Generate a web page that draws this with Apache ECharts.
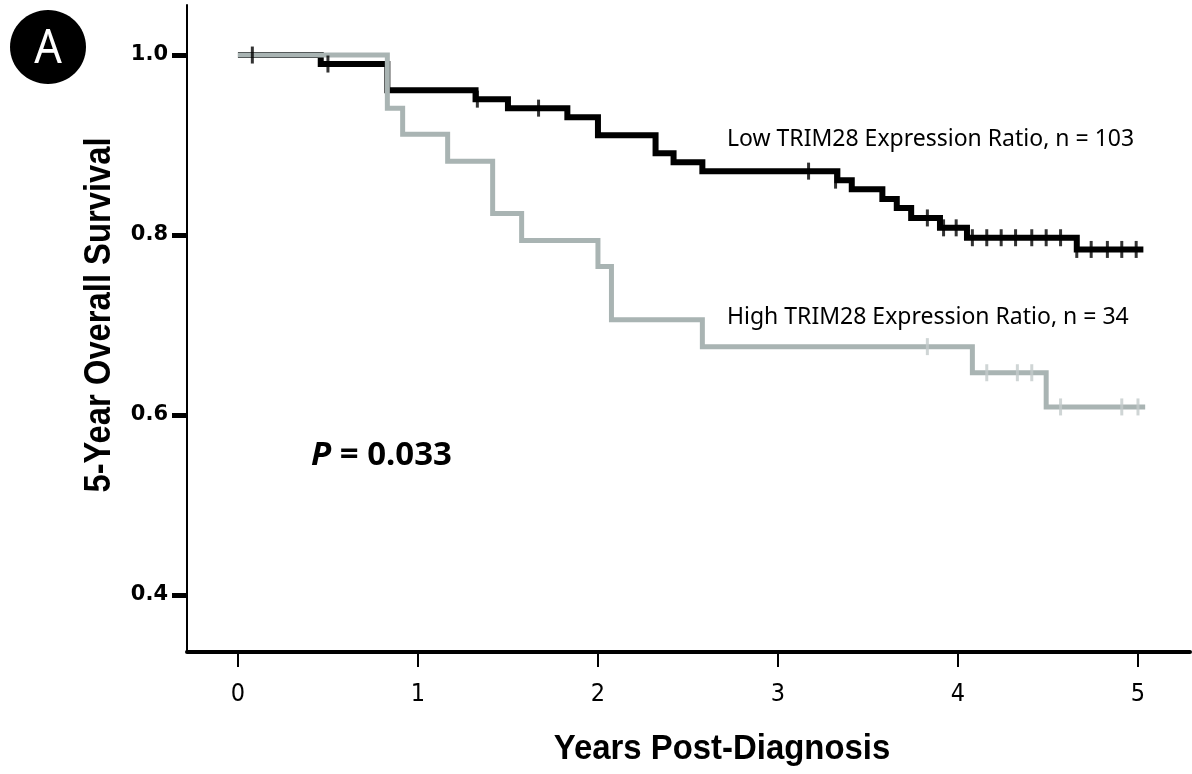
<!DOCTYPE html>
<html>
<head>
<meta charset="utf-8">
<script src="https://cdn.jsdelivr.net/npm/echarts@6/dist/echarts.min.js"></script>
<style>
html,body{margin:0;padding:0;background:#fff;}
#chart{width:1192px;height:774px;}
</style>
</head>
<body>
<div id="chart"></div>
<script>
// ---- Data ----
var xTicks = [0, 1, 2, 3, 4, 5];
var yTicks = [0.4, 0.6, 0.8, 1.0];

// Low TRIM28 expression ratio (n = 103): event times and survival after each step
var lowTimes = [0, 0.46, 0.83, 1.32, 1.50, 1.83, 2.00, 2.32, 2.42, 2.58, 3.33, 3.41, 3.58, 3.66, 3.74, 3.90, 4.05, 4.66, 5.03];
var lowSurv  = [1.0, 0.990, 0.961, 0.951, 0.941, 0.931, 0.911, 0.891, 0.881, 0.871, 0.861, 0.851, 0.840, 0.830, 0.819, 0.808, 0.797, 0.784, 0.784];
// censored observations (time, survival level)
var lowCensorTimes = [0.08, 0.50, 1.33, 1.67, 3.17, 3.32, 3.83, 3.92, 3.99, 4.08, 4.16, 4.24, 4.32, 4.41, 4.49, 4.57, 4.66, 4.74, 4.83, 4.91, 4.99];
var lowCensorSurv  = [1.0, 0.990, 0.951, 0.941, 0.871, 0.861, 0.819, 0.808, 0.808, 0.797, 0.797, 0.797, 0.797, 0.797, 0.797, 0.797, 0.784, 0.784, 0.784, 0.784, 0.784];

// High TRIM28 expression ratio (n = 34)
var highTimes = [0, 0.83, 0.915, 1.165, 1.415, 1.576, 2.00, 2.075, 2.58, 4.08, 4.49, 5.04];
var highSurv  = [1.0, 0.941, 0.912, 0.882, 0.824, 0.794, 0.765, 0.706, 0.676, 0.647, 0.609, 0.609];
var highCensorTimes = [3.83, 4.16, 4.33, 4.41, 4.57, 4.91, 5.00];
var highCensorSurv  = [0.676, 0.647, 0.647, 0.647, 0.609, 0.609, 0.609];

function zip(a, b) { return a.map(function (v, i) { return [v, b[i]]; }); }

var chart = echarts.init(document.getElementById('chart'), null, {renderer: 'canvas'});
var option = {
  animation: false,
  backgroundColor: '#fff',
  grid: {left: 187, right: 2, top: 5, bottom: 122, containLabel: false},
  xAxis: {
    type: 'value',
    min: -0.283, max: 5.289,
    axisLine: {show: true, lineStyle: {color: '#000', width: 4}},
    axisTick: {show: true, customValues: xTicks, length: 15, lineStyle: {color: '#000', width: 2}},
    axisLabel: {
      show: true, customValues: xTicks, margin: 30,
      color: '#000', fontSize: 25,
      fontFamily: '"Liberation Sans Narrow", "DejaVu Sans Condensed", "Liberation Sans", sans-serif'
    },
    splitLine: {show: false}
  },
  yAxis: {
    type: 'value',
    min: 0.3367, max: 1.0556,
    axisLine: {show: true, onZero: false, lineStyle: {color: '#000', width: 2}},
    axisTick: {show: true, customValues: yTicks, length: 15, lineStyle: {color: '#000', width: 5}},
    axisLabel: {
      show: true, customValues: yTicks, margin: 19,
      color: '#000', fontSize: 21, fontWeight: 'bold',
      fontFamily: '"DejaVu Sans", sans-serif',
      formatter: function (v) { return v.toFixed(1); }
    },
    splitLine: {show: false}
  },
  series: [
    {
      type: 'line', name: 'Low', step: 'end', showSymbol: false, symbol: 'none',
      data: zip(lowTimes, lowSurv), z: 2,
      lineStyle: {color: '#000', width: 6, join: 'miter', cap: 'butt'}
    },
    {
      type: 'line', name: 'High', step: 'end', showSymbol: false, symbol: 'none',
      data: zip(highTimes, highSurv), z: 3,
      lineStyle: {color: '#a9b4b3', width: 5, join: 'miter', cap: 'butt'}
    },
    {
      type: 'scatter', name: 'Low censored', symbol: 'rect', symbolSize: [3, 17],
      data: zip(lowCensorTimes, lowCensorSurv), z: 4,
      itemStyle: {color: '#000'}
    },
    {
      type: 'scatter', name: 'High censored', symbol: 'rect', symbolSize: [3, 17],
      data: zip(highCensorTimes, highCensorSurv), z: 4,
      itemStyle: {color: '#c3cbca'}
    }
  ],
  graphic: [
    {type: 'ellipse', shape: {cx: 48, cy: 47, rx: 38, ry: 37}, style: {fill: '#000'}},
    {type: 'text', x: 48, y: 49, scaleX: 0.9,
     style: {text: 'A', fill: '#fff', font: '48px "Noto Sans", sans-serif', textAlign: 'center', textVerticalAlign: 'middle'}},
    {type: 'text', x: 100, y: 315, rotation: Math.PI / 2, scaleX: 0.91,
     style: {text: '5-Year Overall Survival', fill: '#000', font: 'bold 36px "Liberation Sans", sans-serif', textAlign: 'center', textVerticalAlign: 'middle'}},
    {type: 'text', x: 722, y: 749, scaleX: 0.94,
     style: {text: 'Years Post-Diagnosis', fill: '#000', font: 'bold 35px "Liberation Sans", sans-serif', textAlign: 'center', textVerticalAlign: 'middle'}},
    {type: 'text', x: 727, y: 139,
     style: {text: 'Low TRIM28 Expression Ratio, n = 103', fill: '#000', font: '23px "Noto Sans", sans-serif', textAlign: 'left', textVerticalAlign: 'middle'}},
    {type: 'text', x: 727, y: 317,
     style: {text: 'High TRIM28 Expression Ratio, n = 34', fill: '#000', font: '23px "Noto Sans", sans-serif', textAlign: 'left', textVerticalAlign: 'middle'}},
    {type: 'text', x: 311, y: 456,
     style: {
       text: '{p|P}{r| = 0.033}', textAlign: 'left', textVerticalAlign: 'middle',
       rich: {
         p: {font: 'italic bold 33px "Noto Sans", sans-serif', fill: '#000'},
         r: {font: 'bold 33px "Noto Sans", sans-serif', fill: '#000'}
       }
     }}
  ]
};
chart.setOption(option);
</script>
</body>
</html>
